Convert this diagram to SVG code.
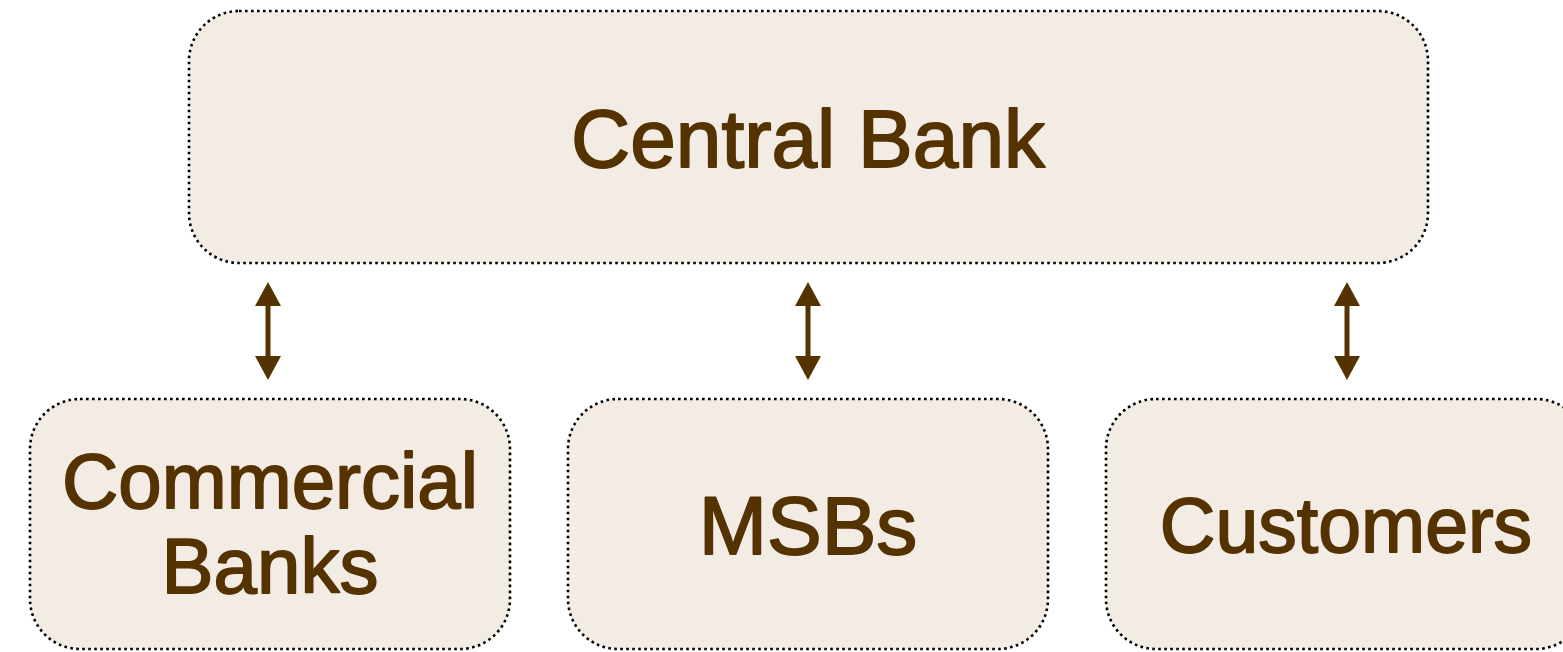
<svg xmlns="http://www.w3.org/2000/svg" width="1563" height="652" viewBox="0 0 1563 652">
<defs>
<style>
.box{fill:#f3ece5;stroke:#000;stroke-width:2.6;stroke-dasharray:2.6 3.4}
.lbl{font-family:"Liberation Sans",Arial,sans-serif;fill:#553300;stroke:#553300;stroke-width:1.8;stroke-linejoin:round;text-anchor:middle}
.arr{stroke:#553300;stroke-width:5;fill:none}
.head{fill:#553300}
</style>
</defs>
<rect width="1563" height="652" fill="#fff"/>
<g id="central-bank">
<rect class="box" x="189" y="11" width="1239" height="252" rx="50" ry="50"/>
<text class="lbl" x="808" y="167" font-size="82">Central Bank</text>
</g>
<g id="commercial-banks">
<rect class="box" x="30" y="399" width="480" height="250" rx="50" ry="50"/>
<text class="lbl" x="270" y="508" font-size="78">Commercial</text>
<text class="lbl" x="270" y="593" font-size="78">Banks</text>
</g>
<g id="msbs">
<rect class="box" x="568" y="399" width="480" height="250" rx="50" ry="50"/>
<text class="lbl" x="808" y="554" font-size="82">MSBs</text>
</g>
<g id="customers">
<rect class="box" x="1106" y="399" width="480" height="250" rx="50" ry="50"/>
<text class="lbl" x="1346" y="552" font-size="77">Customers</text>
</g>
<g id="connectors">
<line class="arr" x1="268" y1="300" x2="268" y2="360"/>
<polygon class="head" points="268,282 255,306 281,306"/>
<polygon class="head" points="268,380 255,356 281,356"/>
<line class="arr" x1="808" y1="300" x2="808" y2="360"/>
<polygon class="head" points="808,282 795,306 821,306"/>
<polygon class="head" points="808,380 795,356 821,356"/>
<line class="arr" x1="1347" y1="300" x2="1347" y2="360"/>
<polygon class="head" points="1347,282 1334,306 1360,306"/>
<polygon class="head" points="1347,380 1334,356 1360,356"/>
</g>
</svg>
